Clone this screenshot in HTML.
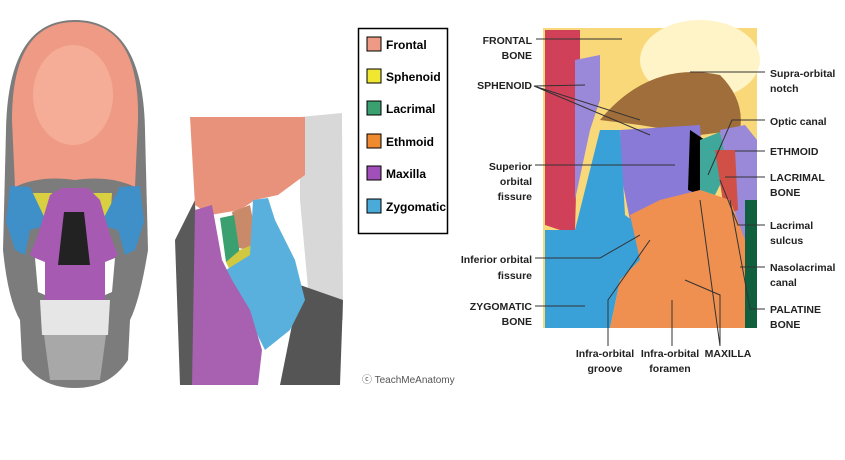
<!DOCTYPE html>
<html><head><meta charset="utf-8"><style>
html,body{margin:0;padding:0;background:#fff;width:845px;height:460px;overflow:hidden}
svg text{font-family:"Liberation Sans",sans-serif}
.lb{font-size:10.5px;font-weight:bold;fill:#222}
</style></head><body>
<svg width="845" height="460" xmlns="http://www.w3.org/2000/svg">
<rect width="845" height="460" fill="#fff"/>
<!-- LEFT SKULL -->
<path d="M6,130 Q8,20 75,20 Q143,20 145,130 L148,250 Q140,300 130,320 L128,360 Q110,388 75,388 Q40,388 22,360 L20,320 Q8,300 3,250 Z" fill="#7c7c7c"/>
<path d="M12,120 Q12,22 75,22 Q140,22 138,120 L135,187 Q110,175 75,180 Q40,175 15,187 Z" fill="#ef9a84"/>
<ellipse cx="73" cy="95" rx="40" ry="50" fill="#f5ad98"/>
<path d="M30,193 L52,193 L52,220 L36,222 Z" fill="#d8d040"/>
<path d="M93,193 L112,193 L110,222 L95,220 Z" fill="#d8d040"/>
<path d="M10,186 L30,187 L48,225 L30,230 L25,255 L15,250 L6,222 Z" fill="#3f8fc8"/>
<path d="M140,186 L120,187 L100,225 L118,230 L125,255 L135,250 L144,222 Z" fill="#3f8fc8"/>
<path d="M50,195 L62,188 L88,188 L100,200 L110,235 L118,255 L108,262 L105,300 L45,300 L42,262 L30,255 L38,235 Z" fill="#a75ab2"/>
<path d="M64,212 L84,212 L90,265 L58,265 Z" fill="#222"/>
<path d="M35,258 L45,262 L45,295 L38,292 Z M115,258 L105,262 L105,295 L112,292 Z" fill="#fff"/>
<path d="M40,300 L110,300 L108,335 L42,335 Z" fill="#e6e6e6"/>
<path d="M44,335 L106,335 L100,380 L50,380 Z" fill="#a8a8a8"/>
<!-- MIDDLE SKULL -->
<path d="M300,117 L342,113 L343,320 L310,310 L300,200 Z" fill="#d8d8d8"/>
<path d="M300,285 L343,300 L340,385 L280,385 Z" fill="#555"/>
<path d="M175,240 L195,200 L200,385 L180,385 Z" fill="#5a5a5a"/>
<path d="M190,117 L305,117 L305,175 L278,195 L255,200 L240,210 L210,215 L195,205 Z" fill="#e8927c"/>
<path d="M232,212 L250,205 L255,230 L250,250 L238,248 Z" fill="#c98a6a"/>
<path d="M220,218 L234,215 L240,255 L226,262 Z" fill="#3aa070"/>
<path d="M226,262 L240,250 L252,245 L248,268 L232,275 Z" fill="#cfc840"/>
<path d="M253,200 L268,198 L275,220 L295,260 L305,300 L290,330 L265,350 L255,330 L240,300 L226,270 L250,255 Z" fill="#5ab0dc"/>
<path d="M195,210 L212,205 L222,260 L232,280 L250,310 L262,350 L258,385 L192,385 Z" fill="#a860b0"/>
<text x="362" y="383" font-size="10" fill="#555">ⓒ TeachMeAnatomy</text>
<!-- LEGEND -->
<rect x="358.5" y="28.5" width="89" height="205" fill="#fff" stroke="#000" stroke-width="1.5"/>
<g font-size="12" fill="#000" font-weight="bold">
<rect x="367" y="37" width="14" height="14" fill="#ef9a84" stroke="#000"/><text x="386" y="49">Frontal</text>
<rect x="367" y="69" width="14" height="14" fill="#f0e830" stroke="#000"/><text x="386" y="81">Sphenoid</text>
<rect x="367" y="101" width="14" height="14" fill="#3aa070" stroke="#000"/><text x="386" y="113">Lacrimal</text>
<rect x="367" y="134" width="14" height="14" fill="#f08a30" stroke="#000"/><text x="386" y="146">Ethmoid</text>
<rect x="367" y="166" width="14" height="14" fill="#a050b8" stroke="#000"/><text x="386" y="178">Maxilla</text>
<rect x="367" y="199" width="14" height="14" fill="#4aaad8" stroke="#000"/><text x="386" y="211">Zygomatic</text>
</g>
<!-- RIGHT ORBIT -->
<rect x="543" y="28" width="214" height="300" fill="#f8d878"/>
<ellipse cx="700" cy="60" rx="60" ry="40" fill="#fff4c8"/>
<path d="M545,30 L580,30 L580,60 L575,230 L560,230 L545,225 Z" fill="#d04058"/>
<path d="M575,60 L600,55 L600,100 L590,130 L575,200 Z" fill="#9a88d8"/>
<path d="M600,120 Q650,60 720,75 Q745,100 740,130 L700,135 L640,125 Z" fill="#a06e3a"/>
<path d="M620,130 L700,125 L705,190 L690,200 L660,210 L630,220 L622,180 Z" fill="#8a7ad8"/>
<path d="M690,130 L705,140 L700,195 L688,190 Z" fill="#000"/>
<path d="M700,140 L720,132 L730,165 L715,195 L700,190 Z" fill="#40a89a"/>
<path d="M720,130 L745,125 L757,140 L757,240 L740,240 Z" fill="#9a88d8"/>
<path d="M715,150 L735,150 L738,210 L725,215 Z" fill="#d05048"/>
<path d="M545,230 L575,230 L600,130 L620,130 L625,215 L645,230 L640,260 L620,280 L610,328 L545,328 Z" fill="#3aa0d8"/>
<path d="M630,215 L660,200 L700,190 L730,200 L745,240 L745,328 L610,328 L620,280 L640,260 Z" fill="#f09050"/>
<path d="M745,200 L757,200 L757,328 L745,328 Z" fill="#106040"/>
<!-- leader lines -->
<g stroke="#333" stroke-width="1" fill="none">
<path d="M536,39 L622,39"/><path d="M534,86 L640,120 M534,86 L650,135 M534,86 L585,85"/>
<path d="M535,165 L675,165"/><path d="M535,258 L600,258 L640,235"/>
<path d="M535,306 L585,306"/><path d="M608,346 L608,300 L650,240"/><path d="M672,346 L672,300"/>
<path d="M720,346 L720,295 L685,280 M720,346 L700,200"/>
<path d="M765,72 L690,72"/><path d="M765,120 L732,120 L708,175"/><path d="M765,151 L735,151"/>
<path d="M765,177 L725,177"/><path d="M765,225 L738,225 L720,180"/><path d="M765,267 L740,267"/>
<path d="M765,309 L750,309 L730,200"/>
</g>
<g class="lb" text-anchor="end">
<text x="532" y="44">FRONTAL</text><text x="532" y="59">BONE</text>
<text x="532" y="89">SPHENOID</text>
<text x="532" y="170">Superior</text><text x="532" y="185">orbital</text><text x="532" y="200">fissure</text>
<text x="532" y="263">Inferior orbital</text><text x="532" y="279">fissure</text>
<text x="532" y="310">ZYGOMATIC</text><text x="532" y="325">BONE</text>
</g>
<g class="lb">
<text x="770" y="77">Supra-orbital</text><text x="770" y="92">notch</text>
<text x="770" y="125">Optic canal</text>
<text x="770" y="155">ETHMOID</text>
<text x="770" y="181">LACRIMAL</text><text x="770" y="196">BONE</text>
<text x="770" y="229">Lacrimal</text><text x="770" y="244">sulcus</text>
<text x="770" y="271">Nasolacrimal</text><text x="770" y="286">canal</text>
<text x="770" y="313">PALATINE</text><text x="770" y="328">BONE</text>
</g>
<g class="lb" text-anchor="middle">
<text x="605" y="357">Infra-orbital</text><text x="605" y="372">groove</text>
<text x="670" y="357">Infra-orbital</text><text x="670" y="372">foramen</text>
<text x="728" y="357">MAXILLA</text>
</g>
</svg>
</body></html>
